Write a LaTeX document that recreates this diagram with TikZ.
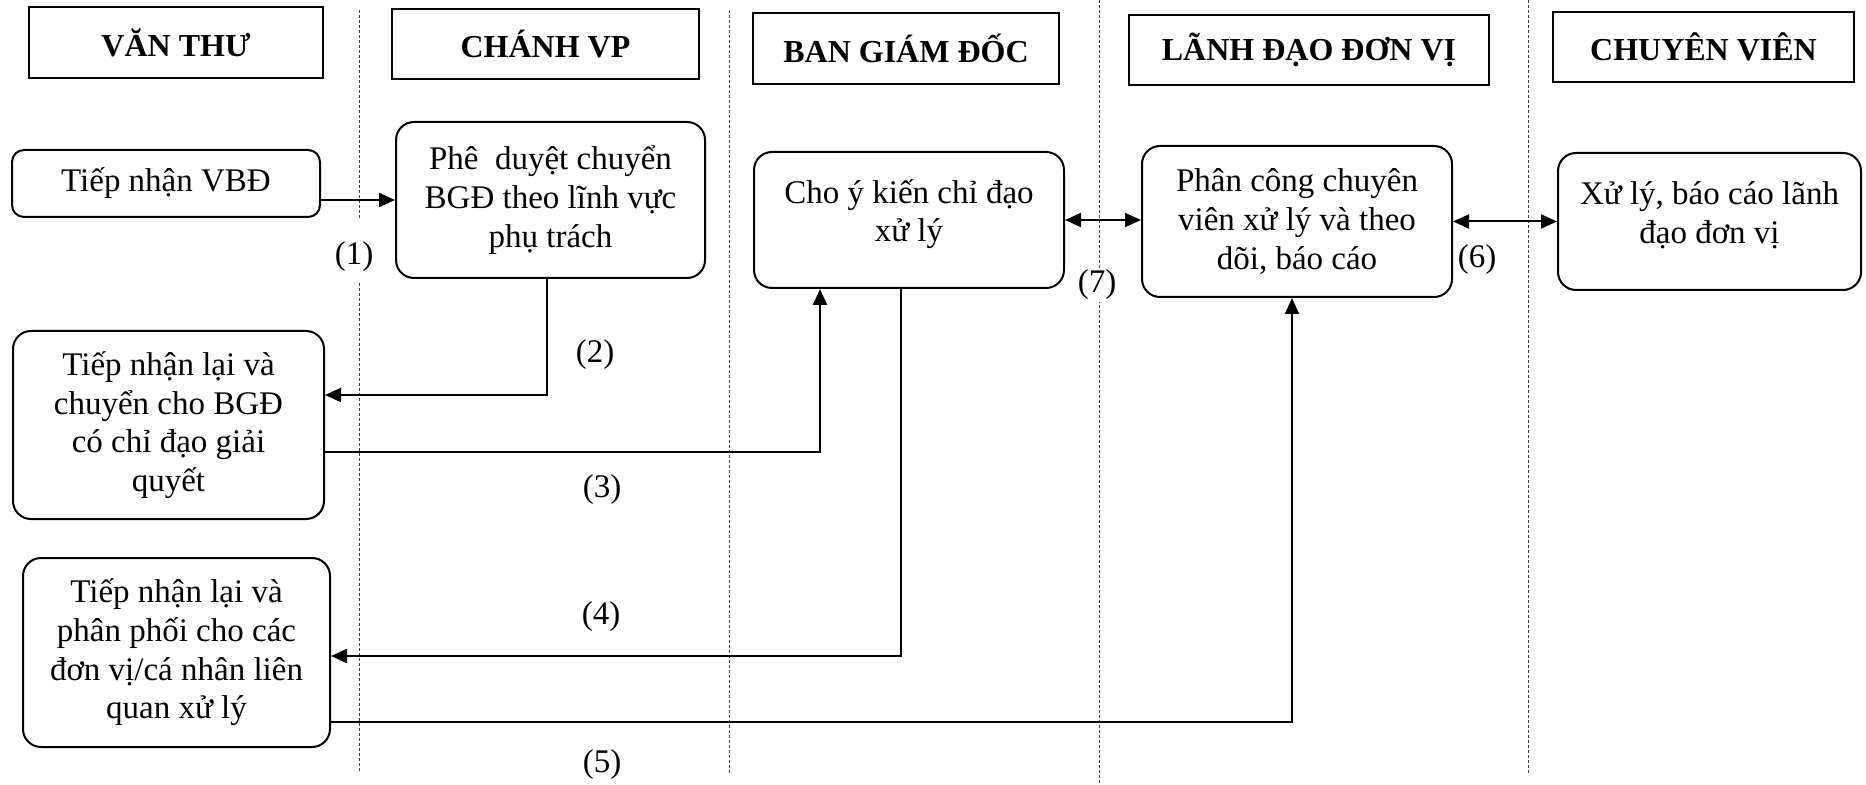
\documentclass[tikz,border=0pt]{standalone}
\usepackage{fontspec}
\setmainfont{Liberation Serif}
\usetikzlibrary{arrows.meta}
\begin{document}
\begin{tikzpicture}[x=0.5pt,y=-0.5pt,
 hdr/.style={draw,line width=1pt,font=\fontsize{16}{18.5}\selectfont\bfseries,inner sep=0pt},
 proc/.style={draw,line width=1pt,rounded corners=9pt,align=center,inner sep=0pt,font=\fontsize{16.5}{19.3}\selectfont},
 txt/.style={align=center,inner sep=0pt,font=\fontsize{16.5}{19.3}\selectfont},
 conn/.style={line width=1pt,-{Triangle[length=8pt,width=7pt]}},
 conn2/.style={line width=1pt,{Triangle[length=8pt,width=7pt]}-{Triangle[length=8pt,width=7pt]}},
 lane/.style={line width=0.5pt,dash pattern=on 1.5pt off 1pt,black!75},
 num/.style={font=\fontsize{16.5}{19.3}\selectfont,fill=white,inner sep=1pt}]
\useasboundingbox (0,0) rectangle (1866,785);
% swimlane separators
\draw[lane] (359,10) -- (359,220);
\draw[lane] (359,283) -- (359,773);
\draw[lane] (729,10) -- (729,773);
\draw[lane] (1099,0) -- (1099,783);
\draw[lane] (1528,0) -- (1528,773);
% headers
\node[hdr,minimum width=147pt,minimum height=35.5pt] (h1) at (176,42.5) {VĂN THƯ};
\node[hdr,minimum width=153.5pt,minimum height=35pt] (h2) at (545.5,44) {CHÁNH VP};
\node[hdr,minimum width=153pt,minimum height=35.5pt] (h3) at (906,48.5) {BAN GIÁM ĐỐC};
\node[hdr,minimum width=180pt,minimum height=35pt] (h4) at (1309,50) {LÃNH ĐẠO ĐƠN VỊ};
\node[hdr,minimum width=150.5pt,minimum height=35pt] (h5) at (1703.5,47) {CHUYÊN VIÊN};
% process boxes
\node[proc,rounded corners=6pt,minimum width=154pt,minimum height=33.5pt] (a1) at (166,183.5) {Tiếp nhận VBĐ};
\node[proc,minimum width=154.5pt,minimum height=78pt] (b1) at (550.5,200) {Phê~ duyệt chuyển\\BGĐ theo lĩnh vực\\phụ trách};
\node[proc,minimum width=155pt,minimum height=68pt] (c1) at (909,220) {};
\node[txt] (c1t) at (909,214) {Cho ý kiến chỉ đạo\\xử lý};
\node[proc,minimum width=155pt,minimum height=75.5pt] (d1) at (1297,221.5) {Phân công chuyên\\viên xử lý và theo\\dõi, báo cáo};
\node[proc,minimum width=151.5pt,minimum height=68.5pt] (e1) at (1709.5,221.5) {};
\node[txt] (e1t) at (1709.5,215) {Xử lý, báo cáo lãnh\\đạo đơn vị};
\node[proc,minimum width=155.5pt,minimum height=94pt] (a2) at (168.5,425) {Tiếp nhận lại và\\chuyển cho BGĐ\\có chỉ đạo giải\\quyết};
\node[proc,minimum width=153.5pt,minimum height=94.5pt] (a3) at (176.5,652.5) {Tiếp nhận lại và\\phân phối cho các\\đơn vị/cá nhân liên\\quan xử lý};
% bend points
\coordinate (k2) at (547,395);
\coordinate (k3) at (820,452);
\coordinate (k4) at (901,656);
\coordinate (k5) at (1292,722);
% connectors
\draw[conn] (a1.east |- b1.west) -- (b1.west);
\draw[conn] (b1.south -| k2) -- (k2) -- (a2.east |- k2);
\draw[conn] (a2.east |- k3) -- (k3) -- (k3 |- c1.south);
\draw[conn] (c1.south -| k4) -- (k4) -- (a3.east |- k4);
\draw[conn] (a3.east |- k5) -- (k5) -- (k5 |- d1.south);
\draw[conn2] (c1.east) -- (c1.east -| d1.west);
\draw[conn2] (d1.east) -- (e1.west);
% step numbers
\node[num] (n1) at (354,257) {(1)};
\node[num] (n2) at (595,355) {(2)};
\node[num] (n3) at (602,490) {(3)};
\node[num] (n4) at (601,617) {(4)};
\node[num] (n5) at (602,765) {(5)};
\node[num] (n6) at (1477,260) {(6)};
\node[num] (n7) at (1097,285) {(7)};
\end{tikzpicture}
\end{document}
